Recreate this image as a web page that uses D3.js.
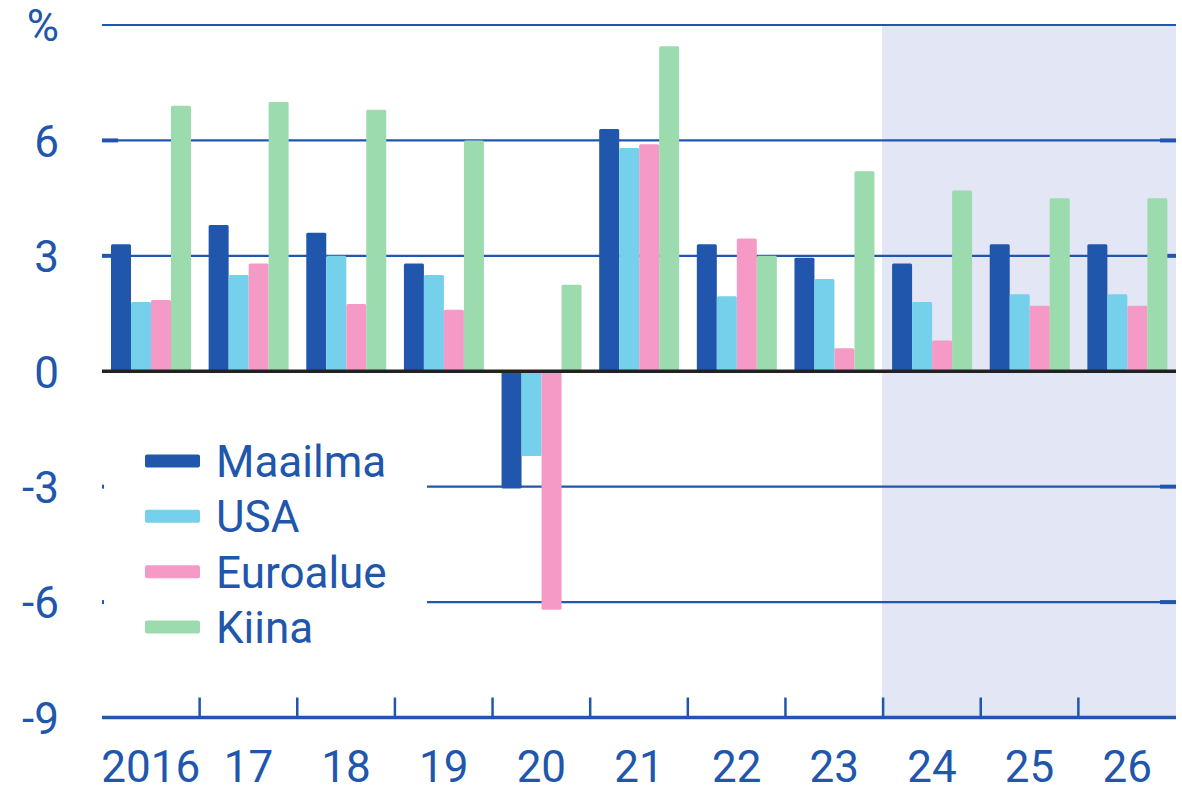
<!DOCTYPE html>
<html>
<head>
<meta charset="utf-8">
<script src="https://cdn.jsdelivr.net/npm/d3@7"></script>
<style>
  html, body { margin: 0; padding: 0; background: #ffffff; }
  svg { display: block; font-family: Roboto, "Noto Sans", sans-serif; }
</style>
</head>
<body>
<svg id="chart" width="1182" height="787"></svg>
<script>
// ---- Data ----
const years = ["2016", "17", "18", "19", "20", "21", "22", "23", "24", "25", "26"];
const seriesNames = ["Maailma", "USA", "Euroalue", "Kiina"];
const maailma = [3.3, 3.8, 3.6, 2.8, -3.05, 6.3, 3.3, 2.95, 2.8, 3.3, 3.3];
const usa     = [1.8, 2.5, 3.0, 2.5, -2.2, 5.8, 1.95, 2.4, 1.8, 2.0, 2.0];
const euroalue= [1.85, 2.8, 1.75, 1.6, -6.2, 5.9, 3.45, 0.6, 0.8, 1.7, 1.7];
const kiina   = [6.9, 7.0, 6.8, 6.0, 2.25, 8.45, 3.0, 5.2, 4.7, 4.5, 4.5];
const yTicks = [-9, -6, -3, 0, 3, 6, 9];
const yTickLabels = ["-9", "-6", "-3", "0", "3", "6", "%"];
const forecastStart = "24";

(function () {
const seriesValues = [maailma, usa, euroalue, kiina];
const colors = ["#2156ad", "#74d0eb", "#f59ac6", "#9bdbad"];
const blue = "#2156ad";

// ---- Layout ----
const svg = d3.select("#chart");
const pLeft = 102, pRight = 1176, pTop = 25, pBottom = 717.5;

const x0 = d3.scaleBand().domain(years).range([pLeft, pRight]).padding(0);
const x1 = d3.scaleBand().domain(seriesNames).range([9, 89]).padding(0);
const y = d3.scaleLinear().domain([-9, 9]).range([pBottom, pTop]);

// Forecast shading
svg.append("rect")
  .attr("x", x0(forecastStart) - 1)
  .attr("y", y(9))
  .attr("width", pRight - x0(forecastStart) + 1)
  .attr("height", y(-9) - y(9))
  .attr("fill", "#e3e6f4");

// Gridlines (excluding 0 and -9)
const gridVals = yTicks.filter(v => v !== 0 && v !== -9);
svg.append("g").selectAll("line").data(gridVals).join("line")
  .attr("x1", pLeft).attr("x2", pRight)
  .attr("y1", d => y(d)).attr("y2", d => y(d))
  .attr("stroke", blue).attr("stroke-width", 2.2);

// Inner tick marks (thicker stubs) on both sides
const stubVals = [-6, -3, 3, 6];
const stubs = svg.append("g");
stubs.selectAll("line.l").data(stubVals).join("line").attr("class", "l")
  .attr("x1", pLeft).attr("x2", pLeft + 16)
  .attr("y1", d => y(d)).attr("y2", d => y(d))
  .attr("stroke", blue).attr("stroke-width", 4);
stubs.selectAll("line.r").data(stubVals).join("line").attr("class", "r")
  .attr("x1", pRight - 16).attr("x2", pRight)
  .attr("y1", d => y(d)).attr("y2", d => y(d))
  .attr("stroke", blue).attr("stroke-width", 4);

// Bars
const data = years.map((yr, i) => ({ year: yr, vals: seriesNames.map((s, j) => ({ s, j, v: seriesValues[j][i] })) }));
const groups = svg.append("g").selectAll("g").data(data).join("g")
  .attr("transform", d => `translate(${x0(d.year)},0)`);
groups.selectAll("rect").data(d => d.vals).join("rect")
  .attr("x", d => x1(d.s))
  .attr("width", x1.bandwidth())
  .attr("y", d => y(Math.max(0, d.v)))
  .attr("height", d => Math.abs(y(d.v) - y(0)))
  .attr("rx", 1.5)
  .attr("fill", d => colors[d.j]);

// Zero line
svg.append("line")
  .attr("x1", pLeft).attr("x2", pRight)
  .attr("y1", y(0)).attr("y2", y(0))
  .attr("stroke", "#222222").attr("stroke-width", 3.5);

// Legend background (covers gridlines)
svg.append("rect")
  .attr("x", pLeft + 2).attr("y", 420)
  .attr("width", 323).attr("height", 235)
  .attr("fill", "#ffffff");

// Bottom axis labels
const xAxis = d3.axisBottom(x0).tickSize(0).tickPadding(0);
const gx = svg.append("g").attr("transform", `translate(0,${pBottom})`).call(xAxis);
gx.select(".domain").remove();
gx.selectAll("text")
  .attr("y", 64.5)
  .attr("dy", 0)
  .attr("fill", blue)
  .style("font-size", "44px")
  .style("font-family", "Roboto, sans-serif");

svg.append("line")
  .attr("x1", pLeft).attr("x2", pRight)
  .attr("y1", pBottom).attr("y2", pBottom)
  .attr("stroke", blue).attr("stroke-width", 3.5);

// Category separator ticks
svg.append("g").selectAll("line").data(years.slice(1)).join("line")
  .attr("x1", d => x0(d)).attr("x2", d => x0(d))
  .attr("y1", pBottom).attr("y2", pBottom - 20)
  .attr("stroke", blue).attr("stroke-width", 2.5);

// Left axis labels
const yAxis = d3.axisLeft(y).tickValues(yTicks).tickSize(0).tickPadding(0)
  .tickFormat((d, i) => yTickLabels[i]);
const gy = svg.append("g").attr("transform", `translate(59,0)`).call(yAxis);
gy.select(".domain").remove();
gy.selectAll("text")
  .attr("dy", "0.36em")
  .attr("fill", blue)
  .style("font-size", "44px")
  .style("font-family", "Roboto, sans-serif");

// Legend
const legend = svg.append("g");
const legY = d3.scalePoint().domain(seriesNames).range([461, 627]);
legend.selectAll("rect").data(seriesNames).join("rect")
  .attr("x", 145).attr("y", d => legY(d) - 6.5)
  .attr("width", 55).attr("height", 13)
  .attr("rx", 2)
  .attr("fill", (d, i) => colors[i]);
legend.selectAll("text").data(seriesNames).join("text")
  .attr("x", 216).attr("y", d => legY(d))
  .attr("dy", "0.36em")
  .attr("fill", blue)
  .style("font-size", "44px")
  .text(d => d);
})();
</script>
</body>
</html>
